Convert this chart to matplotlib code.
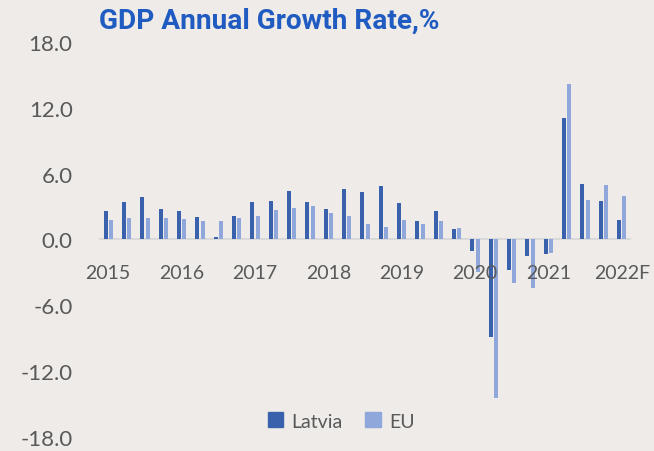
import numpy as np
import matplotlib
matplotlib.use("Agg")
import matplotlib.pyplot as plt
from matplotlib.patches import Patch

# Quarterly GDP growth, 2015Q1 .. 2021Q4 plus 2022 forecast
latvia = [2.55, 3.42, 3.9, 2.8, 2.55, 2.03, 0.2, 2.12, 3.45, 3.55, 4.42, 3.42,
          2.76, 4.64, 4.3, 4.85, 3.3, 1.64, 2.55, 0.97, -1.03, -8.88, -2.82, -1.52,
          -1.3, 11.06, 5.06, 3.48, 1.76]
eu = [1.73, 1.94, 1.94, 1.94, 1.85, 1.64, 1.64, 1.94, 2.12, 2.64, 2.9, 3.03,
      2.42, 2.12, 1.42, 1.12, 1.73, 1.42, 1.64, 1.06, -2.94, -14.45, -4.0, -4.39,
      -1.21, 14.18, 3.64, 4.97, 3.97]
year_labels = ["2015", "2016", "2017", "2018", "2019", "2020", "2021", "2022F"]
y_ticks = [18, 12, 6, 0, -6, -12, -18]

#Colors
bg = "#EEEBE8"
c_lv = "#3A62AC"
c_eu = "#8FA7DA"
txt = "#595959"

plt.rcParams['font.family'] = ['Lato', 'DejaVu Sans']

fig = plt.figure(figsize=(6.54, 4.52), dpi=100, facecolor=bg)
ax = fig.add_axes([0.1514, 0.031, 0.8134, 0.874], facecolor=bg)

x = np.arange(len(latvia))
w = 0.22
ax.axhline(0, color="#D9D9D9", lw=1.5, zorder=0.5)
ax.bar(x - 0.145, latvia, width=w, color=c_lv, zorder=1)
ax.bar(x + 0.145, eu, width=w, color=c_eu, zorder=1)

ax.set_xlim(-0.5, len(latvia) - 0.5)
ax.set_ylim(-18, 18)
# year labels sit on top of the bars
ax.set_axisbelow(False)

for s in ["top", "right", "left", "bottom"]:
    ax.spines[s].set_visible(False)
ax.spines["bottom"].set_position(("data", 0))

ax.set_xticks(x[::4])
ax.set_xticklabels(year_labels, fontsize=14, color=txt)
ax.tick_params(axis="x", length=0, pad=18)
ax.set_yticks(y_ticks)
ax.set_yticklabels([f"{v:.1f}" for v in y_ticks], fontsize=16, color=txt)
ax.tick_params(axis="y", length=0, pad=19)

fig.text(269 / 654, 1 - 21 / 452, "GDP Annual Growth Rate,%", ha="center", va="center",
         fontsize=20.2, fontweight="bold", color="#1F5BC0", family="Roboto")

handles = [Patch(color=c_lv, label="Latvia"), Patch(color=c_eu, label="EU")]
fig.legend(handles=handles, loc="center", bbox_to_anchor=(341 / 654, 1 - 422 / 452),
           ncol=2, frameon=False, fontsize=14, handlelength=0.8, handleheight=0.8,
           handletextpad=0.4, columnspacing=1.2, labelcolor=txt)

fig.savefig("out.png", dpi=100, facecolor=bg)
